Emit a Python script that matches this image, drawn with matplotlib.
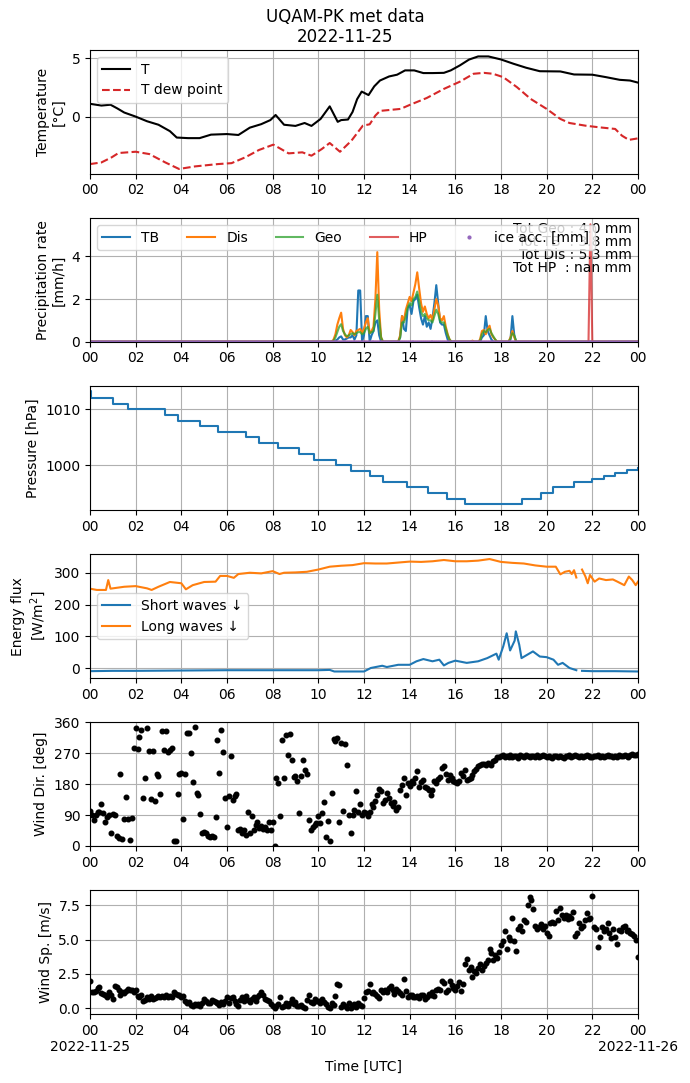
import numpy as np
import pandas as pd
import matplotlib
matplotlib.use("Agg")
import matplotlib.pyplot as plt
import matplotlib.dates as mdates
from matplotlib.ticker import FuncFormatter

day = pd.Timestamp("2022-11-25 00:00")
nan = np.nan

# temperature [degC]
temp_hours = [0, 0.5, 0.9, 1.2, 1.5, 2.0, 2.5, 3.0, 3.5, 3.8, 4.3, 4.8, 5.3, 6.0, 6.5, 7.0, 7.5,
              7.9, 8.13, 8.5, 9.0, 9.4, 9.7, 10.1, 10.5, 10.85, 11.0, 11.3, 11.5, 11.7, 11.9,
              12.2, 12.45, 12.7, 13.1, 13.45, 13.8, 14.2, 14.6, 15.0, 15.5, 15.8, 16.2, 16.6,
              17.0, 17.45, 18.0, 18.55, 19.1, 19.7, 20.6, 21.2, 22.0, 22.6, 23.2, 23.65, 24.0]
temp = [1.1, 0.95, 1.02, 0.7, 0.35, 0.0, -0.4, -0.7, -1.25, -1.8, -1.85, -1.85, -1.55, -1.5,
        -1.58, -0.95, -0.65, -0.3, 0.14, -0.7, -0.8, -0.55, -0.8, -0.2, 0.88, -0.45, -0.3,
        -0.25, 0.4, 1.5, 2.15, 1.85, 2.6, 3.1, 3.45, 3.6, 3.97, 3.97, 3.74, 3.74, 3.76, 3.97,
        4.4, 4.9, 5.17, 5.17, 4.91, 4.54, 4.2, 3.9, 3.88, 3.62, 3.6, 3.39, 3.16, 3.1, 2.92]
dew_hours = [0, 0.5, 0.95, 1.25, 2.0, 2.6, 3.3, 3.9, 4.6, 5.6, 6.2, 6.8, 7.4, 8.03, 8.7, 9.3,
             9.7, 10.15, 10.5, 10.95, 11.45, 11.95, 12.25, 12.5, 12.7, 13.6, 14.0, 14.75, 15.5,
             16.2, 16.8, 17.25, 17.65, 18.1, 18.7, 19.3, 20.0, 20.6, 21.0, 21.7, 22.3, 23.0,
             23.3, 23.6, 24.0]
dew = [-4.08, -3.94, -3.5, -3.13, -3.02, -3.22, -3.94, -4.5, -4.28, -4.08, -4.0, -3.5, -2.87,
       -2.41, -3.16, -3.07, -3.36, -2.79, -2.27, -3.02, -2.07, -0.78, -0.66, 0.09, 0.49, 0.66,
       1.0, 1.6, 2.38, 3.0, 3.68, 3.76, 3.68, 3.39, 2.53, 1.52, 0.66, -0.2, -0.55, -0.78,
       -0.92, -1.06, -1.64, -2.0, -1.87]

# precipitation rate [mm/h], 5 min steps starting 10:30
precip_start = 10.5
tb = [0, 0, 0, 0.05, 0.1, 0.2, 0.25, 0.1, 0.1, 0.15, 0.2, 0.2,
      0.3, 0.1, 0.3, 2.4, 2.4, 0, 0.3, 1.2, 1.2, 0, 0.3, 0.5,
      0.9, 1.0, 0.3, 0, 0, 0, 0, 0, 0, 0, 0, 0,
      0, 0.2, 1.2, 0.6, 0.5, 1.6, 1.7, 1.3, 1.9, 2.0, 2.2, 1.6,
      1.1, 0.8, 1.2, 0.7, 0.9, 0.6, 1.1, 1.8, 2.65, 1.8, 0.9, 0.8,
      0.8, 0.4, 0.1, 0, 0, 0, 0, 0, 0, 0, 0, 0,
      0, 0, 0, 0, 0, 0, 0, 0, 0.2, 0.3, 1.2, 0.5,
      0.3, 0.1, 0, 0, 0, 0, 0, 0, 0, 0, 0, 0.1,
      1.2, 0.3, 0, 0]
dis = [0, 0, 0.1, 0.35, 0.8, 1.1, 1.36, 0.6, 0.3, 0.2, 0.3, 0.55,
       0.45, 0.3, 0.5, 0.55, 0.6, 0.4, 0.6, 0.9, 1.1, 0.4, 0.5, 0.7,
       2.0, 4.2, 1.5, 0.2, 0, 0, 0, 0, 0, 0, 0, 0,
       0, 0.3, 1.2, 1.0, 1.5, 1.8, 2.1, 1.9, 2.3, 2.7, 3.25, 2.5,
       1.8, 1.4, 1.65, 1.3, 1.1, 1.25, 1.0, 1.5, 2.0, 1.7, 1.1, 1.0,
       1.2, 0.7, 0.35, 0.1, 0, 0, 0, 0, 0, 0, 0, 0,
       0, 0, 0, 0.05, 0, 0, 0, 0.1, 0.5, 0.55, 0.35, 0.6,
       0.75, 0.35, 0.2, 0.1, 0, 0, 0, 0, 0, 0, 0, 0.2,
       0.5, 0.2, 0, 0]
geo = [0, 0, 0.05, 0.2, 0.45, 0.7, 0.82, 0.5, 0.35, 0.25, 0.3, 0.35,
       0.4, 0.35, 0.4, 0.45, 0.45, 0.35, 0.4, 0.6, 0.7, 0.4, 0.45, 0.5,
       1.3, 2.2, 1.0, 0.2, 0, 0, 0, 0, 0, 0, 0, 0,
       0, 0.2, 0.9, 0.9, 1.2, 1.6, 1.8, 1.7, 2.0, 2.1, 2.35, 1.9,
       1.4, 1.2, 1.3, 1.1, 1.0, 1.0, 0.9, 1.2, 1.5, 1.3, 0.95, 0.9,
       0.9, 0.6, 0.3, 0.1, 0, 0, 0, 0, 0, 0, 0, 0,
       0, 0, 0, 0, 0, 0, 0, 0.05, 0.35, 0.5, 0.45, 0.55,
       0.6, 0.4, 0.25, 0.1, 0, 0, 0, 0, 0, 0, 0, 0.15,
       0.4, 0.3, 0, 0]
hp_spike_hour = 21.92
hp_spike_rate = 5.5
totals_text = "Tot Geo : 4.0 mm\nTot TB  : 3.8 mm\nTot Dis : 5.3 mm\nTot HP  : nan mm"

# pressure [hPa], level reached at each hour
pres_hours = [0, 0.05, 1.0, 1.67, 3.3, 3.87, 4.83, 5.6, 6.84, 7.42, 8.22, 9.14, 9.81, 10.77,
              11.44, 12.27, 12.84, 13.9, 14.8, 15.62, 16.43, 18.92, 19.74, 20.3, 21.22, 22.0,
              22.5, 23.0, 23.5, 24.0]
pres = [1013.2, 1012, 1011, 1010, 1009, 1008, 1007, 1006, 1005, 1004, 1003, 1002, 1001, 1000,
        999, 998, 997, 996, 995, 994, 993, 994, 995, 996, 997, 997.6, 998.1, 998.6, 999.1,
        999.5]

# radiation [W/m2]
lw_hours = [0, 0.3, 0.7, 0.8, 0.9, 1.0, 1.5, 2.0, 2.5, 2.7, 3.0, 3.5, 4.0, 4.2, 4.5, 5.0, 5.5,
            5.7, 6.0, 6.3, 6.5, 7.0, 7.5, 8.0, 8.3, 8.5, 9.0, 9.5, 10.0, 10.5, 11.0, 11.5,
            12.0, 12.5, 13.0, 13.5, 14.0, 14.5, 15.0, 15.5, 16.0, 16.5, 17.0, 17.5, 18.0,
            18.5, 19.0, 19.5, 20.0, 20.4, 20.6, 20.8, 21.0, 21.1, 21.2, 21.3, 21.42, 21.55,
            21.7, 21.8, 21.9, 22.1, 22.3, 22.6, 22.9, 23.1, 23.4, 23.6, 23.75, 23.9, 24.0]
lw = [250, 246, 246, 277, 250, 251, 256, 258, 251, 246, 256, 271, 267, 248, 261, 271, 272,
      290, 290, 284, 296, 300, 298, 305, 296, 300, 301, 303, 310, 319, 322, 324, 330, 329,
      329, 332, 335, 334, 336, 340, 336, 336, 338, 343, 334, 331, 329, 323, 319, 319, 295,
      303, 306, 296, 308, 285, nan, 310, 288, 267, 293, 272, 282, 277, 279, 272, 261, 288,
      277, 261, 272]
sw_hours = [0, 1, 2, 4, 6, 8, 10, 10.5, 10.7, 12.0, 12.3, 12.8, 13.0, 13.5, 14.0, 14.3, 14.6,
            15.0, 15.3, 15.5, 15.7, 16.0, 16.5, 17.0, 17.4, 17.8, 17.9, 18.1, 18.25, 18.4,
            18.6, 18.65, 18.8, 18.9, 19.4, 19.7, 20.0, 20.3, 20.5, 20.7, 21.0, 21.3, 21.42,
            21.55, 22, 23, 24]
sw = [-9, -8, -8, -7, -6, -6, -6, -5, -10, -10, 1, 8, 4, 11, 11, 22, 29, 22, 27, 9, 17, 24,
      17, 22, 32, 46, 27, 69, 110, 56, 87, 116, 74, 32, 53, 37, 35, 27, 11, 17, 1, -6, nan,
      -8, -9, -9, -10]

# wind, 5 min samples from 00:00 to 24:00
wind_dir = [102, 90, 76, 90, 98, 100, 122, 95, 71, 84, 90, 37,
            92, 90, 30, 24, 209, 19, 79, 143, 79, 17, 81, 285,
            343, 283, 316, 339, 139, 198, 343, 277, 137, 277, 131, 209,
            204, 151, 336, 280, 336, 273, 280, 285, 13, 15, 151, 209,
            211, 78, 209, 329, 329, 270, 186, 345, 154, 149, 94, 37,
            40, 37, 30, 27, 28, 25, 84, 310, 212, 339, 273, 139,
            54, 144, 262, 134, 144, 151, 47, 50, 37, 45, 32, 100,
            37, 88, 47, 61, 69, 52, 58, 50, 55, 47, 69, 47,
            70, 0, 199, 183, 88, 310, 199, 322, 266, 327, 251, 202,
            205, 188, 95, 205, 251, 222, 209, 75, 47, 56, 60, 66,
            86, 66, 95, 127, 27, 73, 13, 154, 312, 306, 314, 69,
            300, 102, 297, 236, 90, 37, 90, 105, 160, 100, 122, 90,
            100, 95, 86, 100, 122, 112, 131, 149, 166, 159, 125, 134,
            154, 140, 125, 115, 129, 105, 112, 163, 178, 198, 149, 183,
            176, 188, 183, 198, 217, 173, 185, 193, 173, 168, 163, 149,
            163, 188, 183, 195, 202, 227, 232, 210, 193, 207, 198, 188,
            185, 183, 190, 212, 205, 222, 193, 196, 198, 207, 217, 225,
            232, 235, 238, 240, 236, 241, 238, 236, 246, 250, 258, 260,
            261, 264, 258, 262, 260, 265, 259, 263, 261, 257, 264, 262,
            260, 266, 261, 258, 263, 262, 260, 264, 259, 262, 265, 261,
            258, 262, 260, 256, 261, 263, 259, 262, 260, 257, 261, 263,
            264, 260, 262, 265, 261, 259, 263, 260, 262, 264, 261, 260,
            258, 262, 261, 264, 260, 263, 259, 262, 265, 261, 263, 260,
            262, 258, 264, 261, 263, 266, 262, 260, 265, 268, 264, 266,
            267]
wind_sp = [2.0, 1.2, 1.15, 1.25, 1.45, 1.55, 1.1, 1.05, 0.95, 0.85, 1.2, 1.0,
           0.7, 1.6, 1.55, 1.3, 1.0, 1.2, 1.1, 1.25, 1.4, 1.3, 1.35, 1.2,
           1.3, 0.9, 0.8, 0.95, 0.5, 0.6, 0.85, 0.7, 0.9, 0.65, 0.75, 0.8,
           0.9, 0.85, 0.9, 0.8, 0.95, 0.85, 0.9, 0.8, 1.2, 1.05, 0.95, 1.0,
           0.85, 0.9, 0.5, 0.35, 0.45, 0.25, 0.2, 0.3, 0.25, 0.3, 0.2, 0.35,
           0.7, 0.55, 0.4, 0.35, 0.6, 0.5, 0.45, 0.35, 0.25, 0.45, 0.3, 0.55,
           0.8, 0.4, 0.75, 0.85, 0.5, 0.3, 0.15, 0.6, 0.8, 0.5, 0.9, 0.6,
           0.45, 0.7, 0.8, 0.55, 0.85, 1.0, 1.2, 0.95, 0.7, 0.6, 0.55, 0.3,
           0.15, 0.0, 0.2, 0.3, 0.85, 0.1, 0.2, 0.35, 0.15, 0.4, 0.65, 0.3,
           0.45, 0.2, 0.15, 0.25, 0.1, 0.05, 0.6, 1.0, 0.45, 0.35, 0.7, 0.5,
           0.55, 0.35, 0.7, 0.45, 0.3, 0.1, 0.0, 0.4, 0.25, 0.9, 1.8, 1.7,
           0.1, 0.3, 0.2, 0.0, 0.35, 0.05, 0.15, 0.3, 0.1, 0.35, 0.25, 0.15,
           0.75, 1.2, 1.25, 1.8, 1.1, 1.2, 1.05, 0.9, 0.75, 1.3, 1.2, 1.35,
           1.15, 1.5, 1.6, 1.3, 1.05, 1.4, 1.25, 1.1, 0.95, 2.1, 1.25, 0.8,
           0.95, 1.0, 0.8, 0.85, 0.9, 0.75, 0.95, 1.0, 0.7, 0.85, 1.05, 1.0,
           1.2, 0.9, 1.3, 1.4, 1.35, 2.0, 1.85, 1.15, 1.3, 2.0, 1.7, 1.5,
           1.35, 1.6, 1.9, 1.25, 1.75, 3.2, 3.6, 2.8, 3.0, 2.3, 2.7, 2.55,
           2.9, 3.2, 2.8, 3.1, 3.3, 3.5, 4.3, 4.0, 3.5, 3.9, 3.7, 4.1,
           4.6, 4.9, 5.6, 4.3, 5.2, 5.0, 6.6, 4.9, 4.2, 5.8, 6.0, 5.6,
           6.4, 6.3, 7.5, 8.1, 7.9, 7.2, 6.0, 5.8, 5.95, 6.15, 5.8, 6.0,
           5.5, 5.3, 6.2, 6.3, 6.25, 7.1, 6.4, 7.3, 6.8, 6.6, 6.8, 6.5,
           6.7, 6.6, 7.0, 5.3, 5.5, 6.2, 5.85, 6.0, 6.4, 6.95, 6.5, 6.6,
           8.2, 5.9, 5.8, 4.5, 5.2, 5.9, 5.65, 5.8, 6.2, 5.5, 5.15, 5.75,
           5.2, 4.65, 5.7, 5.6, 5.9, 6.0, 5.6, 5.7, 5.5, 5.4, 5.3, 4.95,
           3.75]


def to_time(hours):
    return day + pd.to_timedelta(np.asarray(hours, dtype=float), unit="h")


five_min = day + pd.to_timedelta(np.arange(len(wind_sp)) * 5, unit="min")

# full-day precipitation series on the 5 min grid
n0 = int(round(precip_start * 12))
tb_full = np.zeros(len(five_min))
dis_full = np.zeros(len(five_min))
geo_full = np.zeros(len(five_min))
tb_full[n0:n0 + len(tb)] = tb
dis_full[n0:n0 + len(dis)] = dis
geo_full[n0:n0 + len(geo)] = geo
hp_full = np.zeros(len(five_min))
hp_full[int(round(hp_spike_hour * 12))] = hp_spike_rate
ice_full = np.zeros(len(five_min))

fig, axes = plt.subplots(6, 1, figsize=(6.9, 10.83), dpi=100)
fig.subplots_adjust(left=0.1304, right=0.9246, top=0.9538, bottom=0.0637, hspace=0.36)
fig.suptitle("UQAM-PK met data\n2022-11-25", fontsize=12, y=0.993)

ax = axes[0]
ax.plot(to_time(temp_hours), temp, color="k", label="T")
ax.plot(to_time(dew_hours), dew, color="tab:red", ls="--", label="T dew point")
ax.set_ylim(-4.9, 5.72)
ax.set_yticks([0, 5])
ax.set_ylabel("Temperature\n[°C]")
ax.legend(loc="upper left")

ax = axes[1]
ax.plot(five_min, tb_full, color="C0", label="TB")
ax.plot(five_min, dis_full, color="C1", label="Dis")
ax.plot(five_min, geo_full, color="C2", alpha=0.75, label="Geo")
ax.plot(five_min, hp_full, color="C3", alpha=0.75, label="HP")
ax.plot(five_min, ice_full, ".", color="C4", ms=4, label="ice acc. [mm]")
ax.text(0.988, 0.97, totals_text, transform=ax.transAxes, ha="right", va="top",
        linespacing=0.9)
ax.set_ylim(0, 5.79)
ax.set_yticks([0, 2, 4])
ax.set_ylabel("Precipitation rate\n[mm/h]")
ax.legend(loc="upper left", ncol=5, mode="expand", bbox_to_anchor=(0, 0, 0.934, 1))

ax = axes[2]
ax.plot(to_time(pres_hours), pres, color="C0", drawstyle="steps-post")
ax.set_ylim(992.0, 1014.15)
ax.set_yticks([1000, 1010])
ax.set_ylabel("Pressure [hPa]")

ax = axes[3]
ax.plot(to_time(sw_hours), sw, color="C0", label="Short waves ↓")
ax.plot(to_time(lw_hours), lw, color="C1", label="Long waves ↓")
ax.set_ylim(-30, 358)
ax.set_yticks([0, 100, 200, 300])
ax.set_ylabel("Energy flux\n[W/m$^2$]")
ax.legend(loc="center left")

ax = axes[4]
ax.plot(five_min, wind_dir, "o", color="k", ms=3.3)
ax.set_ylim(0, 360)
ax.set_yticks([0, 90, 180, 270, 360])
ax.set_ylabel("Wind Dir. [deg]")

ax = axes[5]
ax.plot(five_min, wind_sp, "o", color="k", ms=3.3)
ax.set_ylim(-0.42, 8.59)
ax.set_yticks([0, 2.5, 5.0, 7.5])
ax.set_ylabel("Wind Sp. [m/s]")
ax.set_xlabel("Time [UTC]")


def bottom_label(x, pos):
    d = mdates.num2date(x)
    if d.hour == 0:
        return d.strftime("%H\n%Y-%m-%d")
    return d.strftime("%H")


for i, ax in enumerate(axes):
    ax.set_xlim(day, day + pd.Timedelta(hours=24))
    ax.xaxis.set_major_locator(mdates.HourLocator(byhour=range(0, 24, 2)))
    if i == 5:
        ax.xaxis.set_major_formatter(FuncFormatter(bottom_label))
    else:
        ax.xaxis.set_major_formatter(mdates.DateFormatter("%H"))
    ax.grid(True)

fig.savefig("out.png", dpi=100)
